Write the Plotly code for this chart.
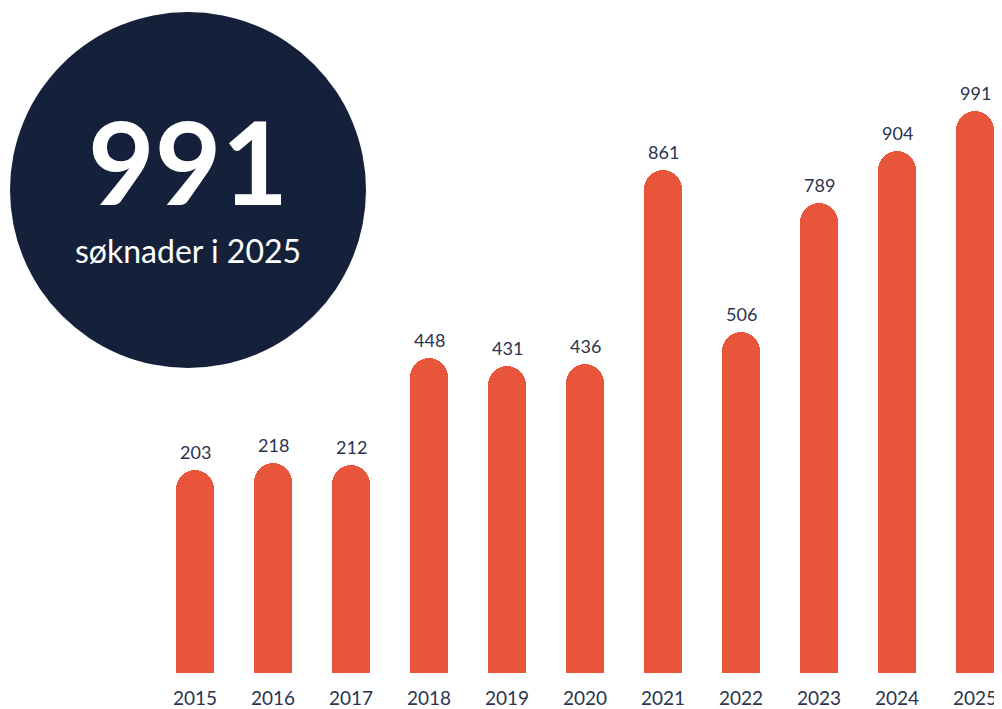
import plotly.graph_objects as go

years = ["2015", "2016", "2017", "2018", "2019", "2020", "2021", "2022", "2023", "2024", "2025"]
applications = [203, 218, 212, 448, 431, 436, 861, 506, 789, 904, 991]
headline_value = "991"
headline_caption = "søknader i 2025"

BAR = "#E8553A"
NAVY = "#15213A"
TEXT = "#2A3450"
FONT = "Lato"

OFFSET = 244  # visual baseline offset used by the original design (bars start below zero)

xpos = list(range(len(years)))

# page has an 8px body margin, so the figure is sized/positioned to compensate
FW, FH = 994, 701
L, T, B = 148, 52, 36
W, H = FW - L, FH - T - B

fig = go.Figure()
fig.add_trace(go.Bar(
    x=xpos,
    y=[v + OFFSET for v in applications],
    width=0.487,
    marker=dict(color=BAR, cornerradius="50%", line=dict(width=0)),
    hoverinfo="skip",
))

for i, v in zip(xpos, applications):
    fig.add_annotation(x=i, y=v + OFFSET, text=str(v), showarrow=False,
                       xref="x", yref="y",
                       yanchor="bottom", yshift=5,
                       font=dict(family=FONT, size=18, color=TEXT))

# headline circle
cx_paper = (180 - L) / W
cy_paper = (FH - B - 182) / H
fig.add_shape(type="circle", xref="paper", yref="paper",
              xsizemode="pixel", ysizemode="pixel",
              xanchor=cx_paper, yanchor=cy_paper,
              x0=-178, x1=178, y0=-178, y1=178,
              fillcolor=NAVY, line=dict(width=0), layer="above")
fig.add_annotation(xref="paper", yref="paper", x=cx_paper, y=cy_paper,
                   text=f"<b>{headline_value}</b>", showarrow=False,
                   xanchor="center", yanchor="middle", yshift=30,
                   font=dict(family=FONT, size=115, color="white"))
fig.add_annotation(xref="paper", yref="paper", x=cx_paper, y=cy_paper,
                   text=headline_caption, showarrow=False,
                   xanchor="center", yanchor="middle", yshift=-60,
                   font=dict(family=FONT, size=32, color="white"))

fig.update_layout(
    width=FW, height=FH,
    margin=dict(l=L, r=0, t=T, b=B, autoexpand=False),
    paper_bgcolor="white", plot_bgcolor="white",
    showlegend=False,
    bargap=0,
    xaxis=dict(range=[-0.5, 10.346], showgrid=False, automargin=False,
               zeroline=False, showline=False, ticks="",
               tickmode="array", tickvals=xpos, ticktext=years,
               ticklabelstandoff=12,
               tickfont=dict(family=FONT, size=19, color=TEXT)),
    yaxis=dict(range=[0, 1347], visible=False, showgrid=False, zeroline=False,
               automargin=False),
)

fig.write_html("out.html")
